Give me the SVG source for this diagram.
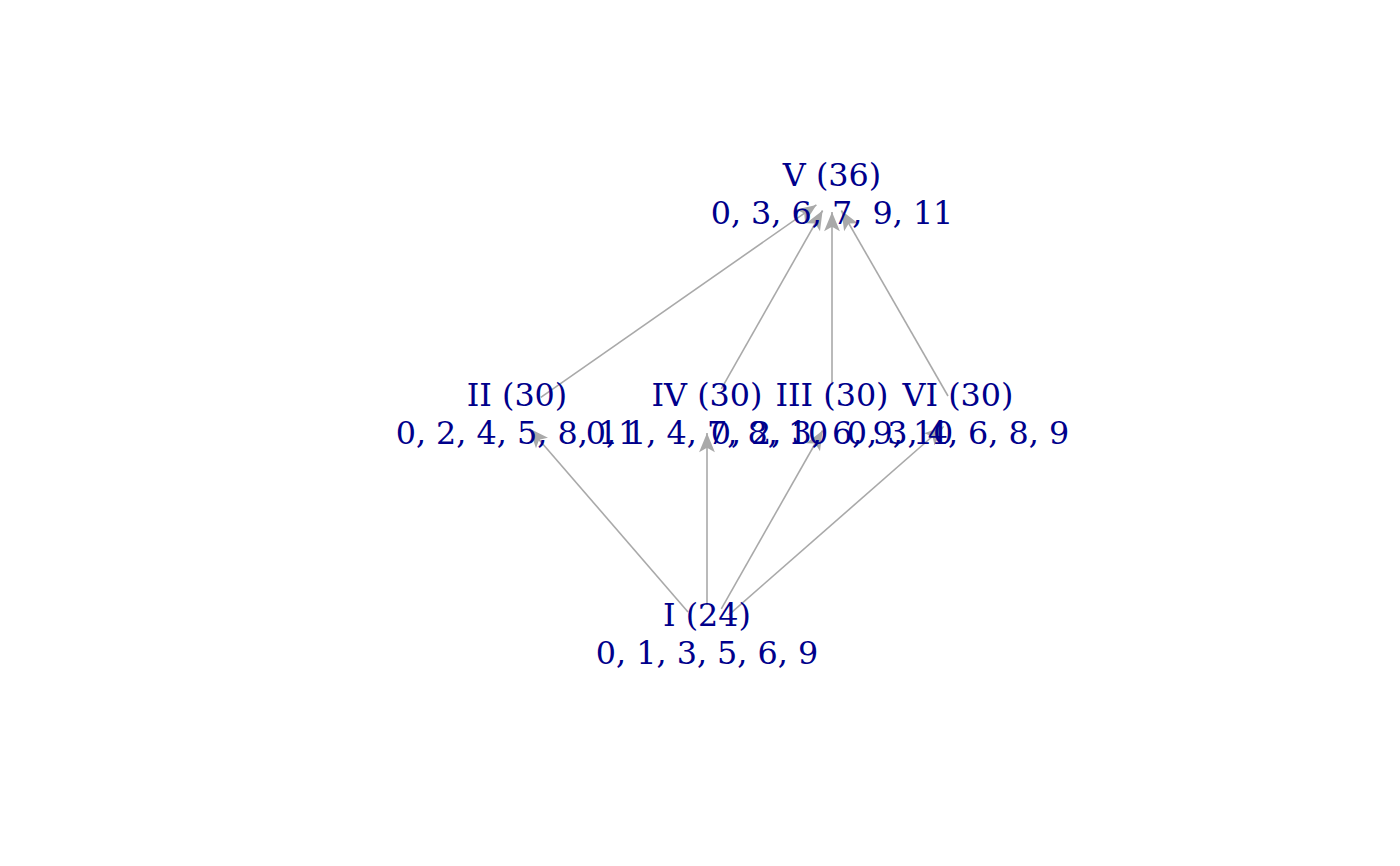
<svg xmlns="http://www.w3.org/2000/svg" width="1400" height="866" viewBox="0 0 1400 866">
<style>
.lbl{font-family:"DejaVu Serif","Liberation Serif",serif;font-size:31.8px;fill:#00008B;text-anchor:middle}
.edge{stroke:#A9A9A9;stroke-width:1.6;fill:none}
</style>
<defs>
<marker id="arr" markerUnits="userSpaceOnUse" markerWidth="22" markerHeight="22" refX="0" refY="0" viewBox="-19 -9 20 18" orient="auto">
<path d="M0,0 L-17.5,-7.2 L-13.5,0 L-17.5,7.2 Z" fill="#A9A9A9"/>
</marker>
</defs>
<rect width="1400" height="866" fill="#ffffff"/>
<g id="connectors">
<line class="edge" x1="688" y1="612" x2="529.4" y2="428.4" marker-end="url(#arr)"/>
<line class="edge" x1="707" y1="605" x2="707" y2="433" marker-end="url(#arr)"/>
<line class="edge" x1="721.3" y1="608.8" x2="822.6" y2="430.5" marker-end="url(#arr)"/>
<line class="edge" x1="728.8" y1="614.9" x2="943.7" y2="426.5" marker-end="url(#arr)"/>
<line class="edge" x1="540.8" y1="397.4" x2="816.4" y2="204.9" marker-end="url(#arr)"/>
<line class="edge" x1="721.3" y1="388.8" x2="822.6" y2="210.5" marker-end="url(#arr)"/>
<line class="edge" x1="832" y1="385" x2="832" y2="212" marker-end="url(#arr)"/>
<line class="edge" x1="948" y1="396" x2="841.4" y2="210.5" marker-end="url(#arr)"/>
</g>
<g id="node-V"><text class="lbl" x="832" y="186">V (36)</text><text class="lbl" x="832" y="224">0, 3, 6, 7, 9, 11</text></g>
<g id="node-II"><text class="lbl" x="517" y="406">II (30)</text><text class="lbl" x="517" y="444">0, 2, 4, 5, 8, 11</text></g>
<g id="node-IV"><text class="lbl" x="707" y="406">IV (30)</text><text class="lbl" x="707" y="444">0, 1, 4, 7, 8, 10</text></g>
<g id="node-III"><text class="lbl" x="832" y="406">III (30)</text><text class="lbl" x="832" y="444">0, 2, 3, 6, 9, 10</text></g>
<g id="node-VI"><text class="lbl" x="958" y="406">VI (30)</text><text class="lbl" x="958" y="444">0, 3, 4, 6, 8, 9</text></g>
<g id="node-I"><text class="lbl" x="707" y="626">I (24)</text><text class="lbl" x="707" y="664">0, 1, 3, 5, 6, 9</text></g>
</svg>
